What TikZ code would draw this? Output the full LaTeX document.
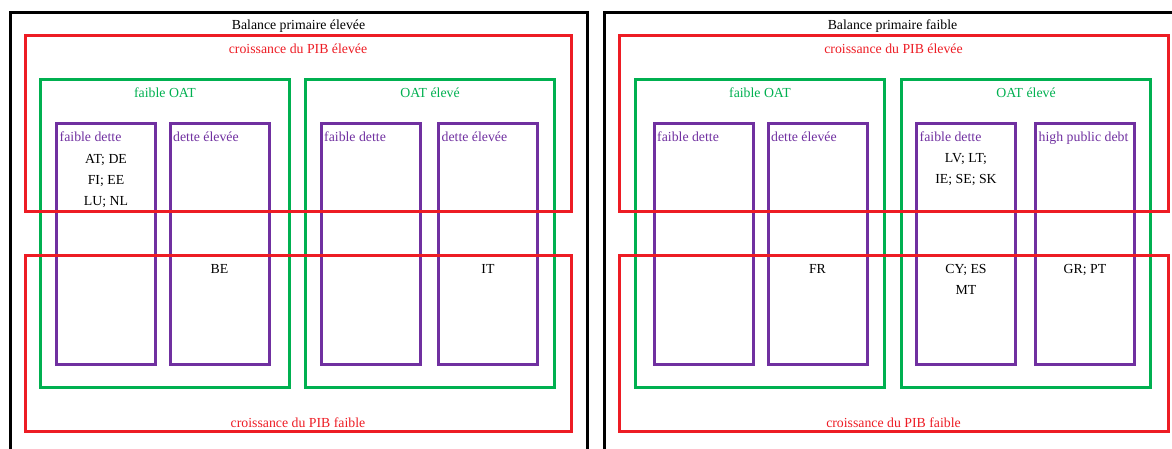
\documentclass[tikz,border=0pt]{standalone}
\usepackage{fontspec}
\setmainfont{Liberation Serif}
\usepackage{tikz}
\usepackage{xcolor}
\definecolor{pibcolor}{HTML}{ED1C24}
\definecolor{oatcolor}{HTML}{00B050}
\definecolor{dettecolor}{HTML}{7030A0}
\colorlet{balancecolor}{black}
\usetikzlibrary{
  positioning,
}
\tikzstyle{basicbox}=[draw, line width=3pt, inner sep=0pt]
\tikzstyle{balancebox}=[basicbox, draw=balancecolor, minimum width=577pt, minimum height=460pt]
\tikzstyle{pibbox}=[basicbox, draw=pibcolor, minimum width=546pt, minimum height=176pt]
\tikzstyle{oatbox}=[basicbox, draw=oatcolor, minimum width=249pt, minimum height=308pt]
\tikzstyle{dettebox}=[basicbox, draw=dettecolor, minimum width=99pt, minimum height=241pt]
\tikzstyle{basiclabel}=[inner sep=1pt]
\tikzstyle{pibtitle}=[basiclabel, text=pibcolor]
\tikzstyle{oattitle}=[basiclabel, text=oatcolor]
\tikzstyle{dettetitle}=[basiclabel, text=dettecolor, anchor=west, text height=0.7em, text depth=0.22em]
\tikzstyle{countries}=[basiclabel, align=center]

\begin{document}
\begin{tikzpicture}[x=1pt, y=-1pt, font=\fontsize{13.8}{21}\selectfont]
	\useasboundingbox (0,0) rectangle (1172,448);
	\clip (0,0) rectangle (1172,448);
	% left panel
	\node (leftbalance) [balancebox] at (298.5,242) {};
	\path (leftbalance.north) + (0,16) node (leftbalancelabel) [basiclabel] {Balance primaire élevée};
	\node (leftlowOAT) [oatbox] at (165,233) {};
	\node (lefthighOAT) [oatbox] at (430,233) {};
	\path (leftlowOAT.north) + (0,15) node (leftlowOATlabel) [oattitle] {faible OAT};
	\path (lefthighOAT.north) + (0,15) node (lefthighOATlabel) [oattitle] {OAT élevé};
	\node (leftlowOATlowdebt) [dettebox] at (106,243.5) {};
	\node (leftlowOAThighdebt) [dettebox] at (219.5,243.5) {};
	\node (lefthighOATlowdebt) [dettebox] at (370.5,243.5) {};
	\node (lefthighOAThighdebt) [dettebox] at (488,243.5) {};
	\path (leftlowOATlowdebt.north west) + (3.5,18) node [dettetitle] {faible dette};
	\path (leftlowOAThighdebt.north west) + (3.5,18) node [dettetitle] {dette élevée};
	\path (lefthighOATlowdebt.north west) + (3.5,18) node [dettetitle] {faible dette};
	\path (lefthighOAThighdebt.north west) + (3.5,18) node [dettetitle] {dette élevée};
	\node (lefthighgrowth) [pibbox] at (298,123) {};
	\node (leftlowgrowth) [pibbox] at (298,343) {};
	\path (lefthighgrowth.north) + (0,15) node (lefthighgrowthlabel) [pibtitle] {croissance du PIB élevée};
	\path (leftlowgrowth.south) + (0,-10) node (leftlowgrowthlabel) [pibtitle] {croissance du PIB faible};
	\path (leftlowOATlowdebt.north) + (0,59) node (leftAAcountries) [countries] {AT; DE\\FI; EE\\LU; NL};
	\path (leftlowOAThighdebt.north) + (0,147.5) node (leftABcountries) [countries] {BE};
	\path (lefthighOAThighdebt.north) + (0,147.5) node (leftBBcountries) [countries] {IT};
	% right panel
	\node (rightbalance) [balancebox] at (892.5,242) {};
	\path (rightbalance.north) + (0,16) node (rightbalancelabel) [basiclabel] {Balance primaire faible};
	\node (rightlowOAT) [oatbox] at (760,233) {};
	\node (righthighOAT) [oatbox] at (1026,233) {};
	\path (rightlowOAT.north) + (0,15) node (rightlowOATlabel) [oattitle] {faible OAT};
	\path (righthighOAT.north) + (0,15) node (righthighOATlabel) [oattitle] {OAT élevé};
	\node (rightlowOATlowdebt) [dettebox] at (703.5,243.5) {};
	\node (rightlowOAThighdebt) [dettebox] at (817.5,243.5) {};
	\node (righthighOATlowdebt) [dettebox] at (966,243.5) {};
	\node (righthighOAThighdebt) [dettebox] at (1085,243.5) {};
	\path (rightlowOATlowdebt.north west) + (3.5,18) node [dettetitle] {faible dette};
	\path (rightlowOAThighdebt.north west) + (3.5,18) node [dettetitle] {dette élevée};
	\path (righthighOATlowdebt.north west) + (3.5,18) node [dettetitle] {faible dette};
	\path (righthighOAThighdebt.north west) + (3.5,18) node [dettetitle] {high public debt};
	\node (righthighgrowth) [pibbox, minimum width=549pt] at (893.5,123) {};
	\node (rightlowgrowth) [pibbox, minimum width=549pt] at (893.5,343) {};
	\path (righthighgrowth.north) + (0,15) node (righthighgrowthlabel) [pibtitle] {croissance du PIB élevée};
	\path (rightlowgrowth.south) + (0,-10) node (rightlowgrowthlabel) [pibtitle] {croissance du PIB faible};
	\path (righthighOATlowdebt.north) + (0,48.5) node (rightBAtopcountries) [countries] {LV; LT;\\IE; SE; SK};
	\path (rightlowOAThighdebt.north) + (0,147.5) node (rightABcountries) [countries] {FR};
	\path (righthighOATlowdebt.north) + (0,158) node (rightBAcountries) [countries] {CY; ES\\MT};
	\path (righthighOAThighdebt.north) + (0,148) node (rightBBcountries) [countries] {GR; PT};
\end{tikzpicture}
\end{document}
